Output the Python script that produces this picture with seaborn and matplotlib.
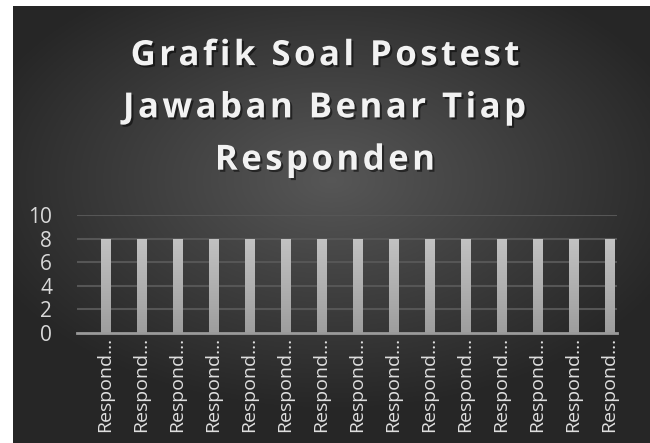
import numpy as np
import pandas as pd
import seaborn as sns
import matplotlib.pyplot as plt
import matplotlib.patheffects as pe

# data
responden = ["Responden %d" % (i + 1) for i in range(15)]
benar = [8, 8, 8, 8, 8, 8, 8, 8, 8, 8, 8, 8, 8, 8, 8]
y_ticks = [0, 2, 4, 6, 8, 10]
judul = ["Grafik Soal Postest", "Jawaban Benar Tiap", "Responden"]

df = pd.DataFrame({"Responden": responden, "Benar": benar})

sns.set_theme(style="dark")
plt.rcParams["font.family"] = ["Open Sans", "DejaVu Sans"]

fig = plt.figure(figsize=(6.5, 4.43), dpi=100)
fig.patch.set_facecolor("white")

# radial gradient background
bg = fig.add_axes([0.02, 0, 0.98, 0.9865])
yy, xx = np.mgrid[-1:1:300j, -1:1:400j]
r = np.sqrt((xx * 0.9) ** 2 + ((yy + 0.2) * 1.0) ** 2)
shade = np.clip(0.34 - 0.18 * r, 0.15, 0.34)
bg.imshow(np.dstack([shade, shade, shade]), aspect="auto", extent=[0, 1, 0, 1])
bg.set_axis_off()

ax = fig.add_axes([0.1185, 0.248, 0.831, 0.267])
ax.patch.set_alpha(0)
sns.barplot(data=df, x="Responden", y="Benar", color="#aaaaaa", width=0.25,
            saturation=1, ax=ax, zorder=3)

# vertical gradient on bars
grad = np.linspace(0.62, 0.76, 50).reshape(-1, 1)
for p in ax.patches:
    x0, y0 = p.get_x(), p.get_y()
    w, h = p.get_width(), p.get_height()
    im = ax.imshow(np.dstack([grad, grad, grad]), aspect="auto", origin="lower",
                   extent=[x0, x0 + w, y0, y0 + h], zorder=3)
    im.set_clip_path(p)
    p.set_facecolor("none")
    p.set_edgecolor("none")

ax.set_xlim(-0.79, 14.21)
ax.set_ylim(0, 10)
ax.set_yticks(y_ticks)
ax.set_yticklabels([str(v) for v in y_ticks], color="#d9d9d9", fontsize=15)
ax.set_xticks(range(len(responden)))
ax.set_xticklabels(["Respond…"] * len(responden), rotation=90, color="#e0e0e0",
                   fontsize=14)
ax.set_xlabel("")
ax.set_ylabel("")
ax.tick_params(axis="both", length=0, pad=3)
ax.tick_params(axis="y", pad=18)
for v in y_ticks[1:]:
    ax.axhline(v, color="#565656", lw=1.5, zorder=1)
for s in ["top", "right", "left"]:
    ax.spines[s].set_visible(False)
ax.spines["bottom"].set_color("#9a9a9a")
ax.spines["bottom"].set_linewidth(2)
ax.spines["bottom"].set_zorder(4)

# title with loose letter spacing
for i, baris in enumerate(judul):
    fig.text(0.5, 0.853 - i * 0.118, "\u200a".join(baris), ha="center", va="baseline",
             fontsize=25, fontweight="bold", color="#f2f2f2",
             path_effects=[pe.withSimplePatchShadow(offset=(1.5, -1.5),
                                                    shadow_rgbFace="black", alpha=0.5)])

plt.savefig("out.png", dpi=100)
